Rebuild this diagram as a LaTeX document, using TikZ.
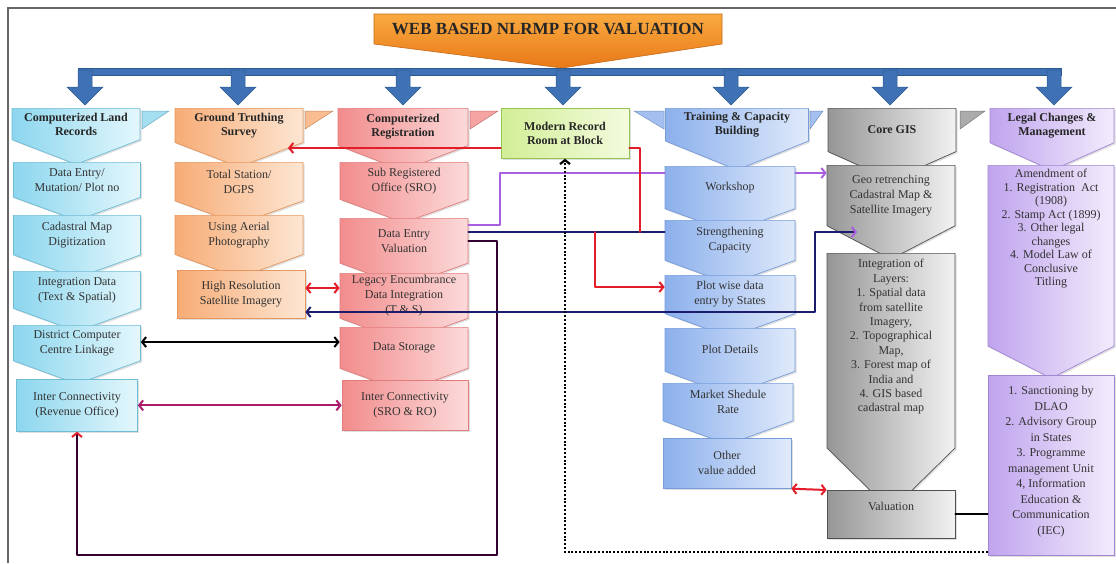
\documentclass[tikz,border=0pt]{standalone}
\usepackage{fontspec}
\setmainfont{Liberation Serif}
\usetikzlibrary{shapes.symbols, arrows.meta, shadows, backgrounds}

\definecolor{barblue}{RGB}{63,114,181}
\definecolor{bardark}{RGB}{45,88,144}
\definecolor{ttlA}{RGB}{249,170,64}
\definecolor{ttlB}{RGB}{232,120,24}
\definecolor{ttlD}{RGB}{200,105,20}
\definecolor{cyA}{RGB}{140,214,238}
\definecolor{cyB}{RGB}{228,247,252}
\definecolor{cyD}{RGB}{110,188,214}
\definecolor{orA}{RGB}{247,172,118}
\definecolor{orB}{RGB}{253,230,211}
\definecolor{orD}{RGB}{230,150,92}
\definecolor{pkA}{RGB}{242,140,140}
\definecolor{pkB}{RGB}{252,218,218}
\definecolor{pkD}{RGB}{226,124,124}
\definecolor{grA}{RGB}{210,238,150}
\definecolor{grB}{RGB}{243,251,222}
\definecolor{grD}{RGB}{150,196,84}
\definecolor{blA}{RGB}{140,176,236}
\definecolor{blB}{RGB}{224,234,251}
\definecolor{blD}{RGB}{118,156,218}
\definecolor{gyA}{RGB}{150,150,150}
\definecolor{gyB}{RGB}{242,242,242}
\definecolor{gyD}{RGB}{80,80,80}
\definecolor{puA}{RGB}{192,164,238}
\definecolor{puB}{RGB}{242,236,252}
\definecolor{puD}{RGB}{162,134,212}
\definecolor{lnNavy}{RGB}{28,28,108}
\definecolor{lnRed}{RGB}{226,28,40}
\definecolor{lnViolet}{RGB}{168,96,224}
\definecolor{lnMag}{RGB}{172,28,108}

\tikzset{
  box/.style={draw, line width=0.7pt, align=center, inner sep=2pt, text=black!80,
    font=\fontsize{12}{15}\selectfont,
    drop shadow={opacity=0.25, shadow xshift=1.5pt, shadow yshift=-1.5pt}},
  chev/.style={box, shape=signal, signal to=south, signal pointer angle=#1},
  head/.style={font=\bfseries\fontsize{12}{14}\selectfont, text=black!85},
  cybox/.style={left color=cyA, right color=cyB, draw=cyD},
  orbox/.style={left color=orA, right color=orB, draw=orD},
  pkbox/.style={left color=pkA, right color=pkB, draw=pkD},
  grbox/.style={left color=grA, right color=grB, draw=grD},
  blbox/.style={left color=blA, right color=blB, draw=blD},
  gybox/.style={left color=gyA, right color=gyB, draw=gyD},
  pubox/.style={left color=puA, right color=puB, draw=puD},
  conn/.style={line width=2pt, line cap=round, line join=round}
}

\begin{document}
\begin{tikzpicture}[x=1pt, y=-1pt, >={Straight Barb[length=4pt, width=10pt]}]
    \useasboundingbox (0,0) rectangle (1116,563);
    \fill[white] (0,0) rectangle (1116,563);

    % outer frame
    \draw[black!60, line width=1.3pt] (8,563) -- (8,8) -- (1116,8);

    % title banner
    \shade[top color=ttlA, bottom color=ttlB, draw=ttlD, line width=0.6pt]
        (374,14) -- (722,14) -- (722,44) -- (562,68) -- (374,44) -- cycle;
    \node[font=\bfseries\fontsize{17}{20}\selectfont, text=black!85] (title) at (548,29) {WEB BASED NLRMP FOR VALUATION};

    % blue bar and arrows
    \fill[barblue, draw=bardark, line width=0.5pt] (78,68) rectangle (1061,75);
    \foreach \ax in {85, 238, 403, 563, 731, 890, 1054} {
        \fill[barblue, draw=bardark, line width=0.5pt] (\ax-7,70) -- (\ax+7,70) -- (\ax+7,87) -- (\ax+18,87)
            -- (\ax,105) -- (\ax-18,87) -- (\ax-7,87) -- cycle;
    }

    % header flags
    \foreach \fx/\fw/\fc in {142/27/cyA, 305/28/orA, 470/28/pkA, 810/13/blA, 960/25/gyA} {
        \fill[\fc!80!white, draw=\fc!80!black, line width=0.5pt] (\fx,111) -- (\fx+\fw,111) -- (\fx,129) -- cycle;
    }
    \fill[blA!80!white, draw=blA!80!black, line width=0.5pt] (634,111) -- (664,111) -- (664,129) -- cycle;

    % headers
    \node[chev=138, head, cybox, minimum width=128pt, minimum height=52pt, anchor=north] (hCLR) at (76,108) {Computerized Land\\Records};
    \node[chev=138, head, orbox, minimum width=128pt, minimum height=52pt, anchor=north] (hGTS) at (239,108) {Ground Truthing\\Survey};
    \node[chev=138, head, pkbox, minimum width=130pt, minimum height=52pt, anchor=north] (hCR) at (403,108) {Computerized\\Registration};
    \node[box, head, grbox, minimum width=128pt, minimum height=50pt, anchor=north] (hMRR) at (565,108) {Modern Record\\Room at Block};
    \node[chev=136, head, blbox, minimum width=143pt, minimum height=55pt, anchor=north] (hTCB) at (737,108) {Training \& Capacity\\Building};
    \node[chev=132, head, gybox, minimum width=128pt, minimum height=55pt, anchor=north] (hGIS) at (892,108) {Core GIS};
    \node[chev=132, head, pubox, minimum width=124pt, minimum height=55pt, anchor=north] (hLCM) at (1052,108) {Legal Changes \&\\Management};

    % column land records
    \node[chev=140, cybox, minimum width=127pt, minimum height=51pt, anchor=north] (iDataEntry) at (77,162) {Data Entry/\\Mutation/ Plot no};
    \node[chev=140, cybox, minimum width=127pt, minimum height=53pt, anchor=north] (iCadastral) at (77,215) {Cadastral Map\\Digitization};
    \node[chev=140, cybox, minimum width=127pt, minimum height=52pt, anchor=north] (iIntegration) at (77,271) {Integration Data\\(Text \& Spatial)};
    \node[chev=140, cybox, minimum width=127pt, minimum height=52pt, anchor=north] (iDistrict) at (77,325) {District Computer\\Centre Linkage};
    \node[box, cybox, minimum width=121pt, minimum height=52pt, anchor=north] (iInterRO) at (77,379) {Inter Connectivity\\(Revenue Office)};

    % column ground truthing
    \node[chev=140, orbox, minimum width=128pt, minimum height=51pt, anchor=north] (iTotal) at (239,162) {Total Station/\\DGPS};
    \node[chev=140, orbox, minimum width=128pt, minimum height=51pt, anchor=north] (iAerial) at (239,215) {Using Aerial\\Photography};
    \node[box, orbox, minimum width=128pt, minimum height=48pt, anchor=north] (iHighRes) at (241,270) {High Resolution\\Satellite Imagery};

    % column registration
    \node[chev=140, pkbox, minimum width=128pt, minimum height=51pt, anchor=north] (iSRO) at (404,162) {Sub Registered\\Office (SRO)};
    \node[chev=140, pkbox, minimum width=128pt, minimum height=55pt, anchor=north] (iDEV) at (404,218) {Data Entry\\Valuation};
    \node[chev=140, pkbox, minimum width=128pt, minimum height=53pt, anchor=north] (iLegacy) at (404,273) {Legacy Encumbrance\\Data Integration\\(T \& S)};
    \node[chev=140, pkbox, minimum width=128pt, minimum height=53pt, anchor=north] (iStorage) at (404,327) {Data Storage};
    \node[box, pkbox, minimum width=126pt, minimum height=50pt, anchor=north] (iInterSRO) at (405,380) {Inter Connectivity\\(SRO \& RO)};

    % column training
    \node[chev=140, blbox, minimum width=130pt, minimum height=52pt, anchor=north] (iWorkshop) at (730,166) {Workshop};
    \node[chev=140, blbox, minimum width=130pt, minimum height=53pt, anchor=north] (iStrength) at (730,220) {Strengthening\\Capacity};
    \node[chev=140, blbox, minimum width=130pt, minimum height=52pt, anchor=north] (iPlotWise) at (730,275) {Plot wise data\\entry by States};
    \node[chev=140, blbox, minimum width=130pt, minimum height=54pt, anchor=north] (iPlotDetails) at (730,328) {Plot Details};
    \node[chev=140, blbox, minimum width=130pt, minimum height=52pt, anchor=north] (iMarket) at (728,383) {Market Shedule\\Rate};
    \node[box, blbox, minimum width=128pt, minimum height=50pt, anchor=north] (iOther) at (727,438) {Other\\value added};

    % column core gis
    \node[chev=125, gybox, minimum width=128pt, minimum height=83pt, anchor=north] (iGeo) at (891,165) {Geo retrenching\\Cadastral Map \&\\Satellite Imagery};
    \node[chev=91, gybox, minimum width=128pt, minimum height=237pt, anchor=north, font=\fontsize{12}{14.4}\selectfont] (iLayers) at (891,253)
        {Integration of\\Layers:\\1. Spatial data\\from satellite\\Imagery,\\2. Topographical\\Map,\\3. Forest map of\\India and\\4. GIS based\\cadastral map\rule[-30pt]{0pt}{0pt}};
    \node[box, gybox, minimum width=128pt, minimum height=48pt, anchor=north] (iValuation) at (891,490) {Valuation\rule[-16pt]{0pt}{0pt}};

    % column legal changes
    \node[chev=126, pubox, minimum width=126pt, minimum height=207pt, anchor=north, font=\fontsize{12}{13.5}\selectfont] (iAmend) at (1051,165)
        {Amendment of\\1. Registration\ \ Act\\(1908)\\2. Stamp Act (1899)\\3. Other legal\\changes\\4. Model Law of\\Conclusive\\Titling\rule[-56pt]{0pt}{0pt}};
    \node[box, pubox, minimum width=126pt, minimum height=180pt, anchor=north, font=\fontsize{12}{15.5}\selectfont] (iSanction) at (1051,375)
        {1. Sanctioning by\\DLAO\\2. Advisory Group\\in States\\3. Programme\\management Unit\\4, Information\\Education \&\\Communication\\(IEC)\rule[-10pt]{0pt}{0pt}};

    % free ends
    \coordinate (cRedTip) at (288,148);
    \coordinate (cJoin) at (640,232);
    \coordinate (cBranch) at (595,232);
    \coordinate (cGeoIn) at (857,232);

    % lines running behind the boxes
    \begin{scope}[on background layer]
        \draw[conn, lnNavy, ->] (iDEV.west |- 0,225) -- (iCadastral.east |- 0,225);
    \end{scope}

    % connectors
    \draw[conn, lnViolet] (iDEV.east |- 0,225) -| (500,173) -- (iWorkshop.west |- 0,173);
    \draw[conn, lnViolet, ->] (iWorkshop.east |- 0,173) -- (iGeo.west |- 0,173);
    \draw[conn, lnNavy] (iDEV.east |- 0,232) -- (iStrength.west |- 0,232);
    \draw[conn, lnRed] (hMRR.east |- 0,148) -| (cJoin);
    \draw[conn, lnRed, ->] (hMRR.west |- 0,148) -- (cRedTip);
    \draw[conn, lnRed, ->] (cBranch) |- (iPlotWise.west |- 0,287);
    \draw[conn, black!75!blue!80!red, {Straight Barb[length=4pt, width=10pt, color=lnRed]}-] (iInterRO.south) -- (77,555) -| (497,241) -- (iDEV.east |- 0,241);
    \draw[conn, lnNavy, {Straight Barb[length=4pt, width=10pt]}-{Straight Barb[length=4pt, width=10pt, color=lnViolet]}]
        (iHighRes.east |- 0,312) -| (815,232) -- (cGeoIn);
    \draw[conn, lnRed, <->] (iHighRes.east |- 0,288) -- (iLegacy.west |- 0,288);
    \draw[conn, black, <->] (iDistrict.east |- 0,342) -- (iStorage.west |- 0,342);
    \draw[conn, lnMag, <->] (iInterRO.east) -- (iInterSRO.west);
    \draw[conn, lnRed, <->] (iOther.south east) -- (iValuation.north west);
    \draw[conn, black] (iValuation.east) -- (iSanction.west |- iValuation.east);
    \draw[black, line width=2.2pt, dash pattern=on 2pt off 1.8pt, ->] (iSanction.west |- 0,552) -| (hMRR.south);
\end{tikzpicture}
\end{document}
